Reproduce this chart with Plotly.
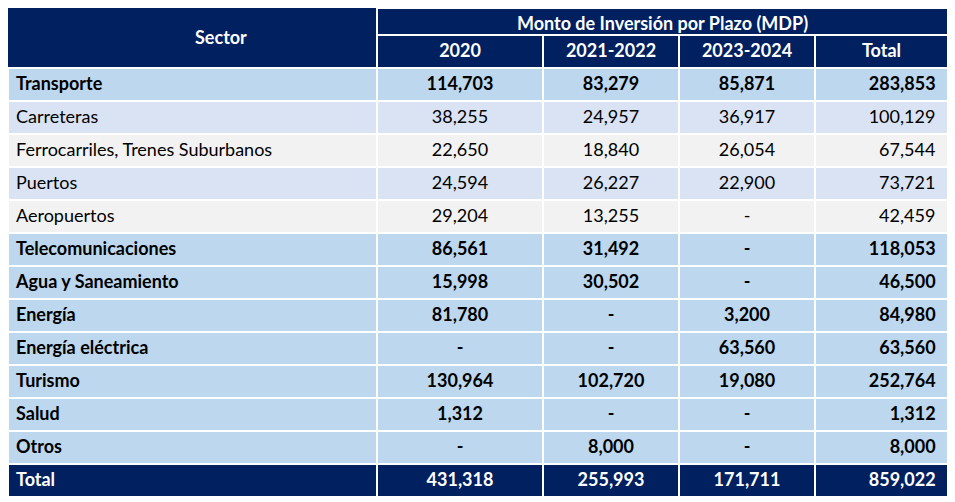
import plotly.graph_objects as go

# Monto de inversion por plazo (MDP)
sectores = ["Transporte", "Carreteras", "Ferrocarriles, Trenes Suburbanos", "Puertos",
            "Aeropuertos", "Telecomunicaciones", "Agua y Saneamiento", "Energía",
            "Energía eléctrica", "Turismo", "Salud", "Otros", "Total"]
subsector = [False, True, True, True, True, False, False, False, False, False, False, False, False]
v2020 = [114703, 38255, 22650, 24594, 29204, 86561, 15998, 81780, None, 130964, 1312, None, 431318]
v2021_2022 = [83279, 24957, 18840, 26227, 13255, 31492, 30502, None, None, 102720, None, 8000, 255993]
v2023_2024 = [85871, 36917, 26054, 22900, None, None, None, 3200, 63560, 19080, None, None, 171711]
total = [283853, 100129, 67544, 73721, 42459, 118053, 46500, 84980, 63560, 252764, 1312, 8000, 859022]
periodos = ["2020", "2021-2022", "2023-2024", "Total"]

NAVY = "#002060"
# the page body adds an 8px margin, so the figure is a bit smaller than the window
W, H = 947, 494
FONT = "Lato"
FS = 18
ROW_H = 33
TOP_H = 27


def fmt(v):
    return "-" if v is None else "{:,}".format(v)


cols = [list(sectores)]
for serie in [v2020, v2021_2022, v2023_2024, total]:
    cols.append([fmt(v) for v in serie])
cols[4] = [c + "\u00a0" for c in cols[4]]

fills = []
for name, sub in zip(sectores, subsector):
    if name == "Total":
        fills.append(NAVY)
    elif sub:
        fills.append("#DAE3F3" if name in ("Carreteras", "Puertos") else "#F2F2F2")
    else:
        fills.append("#BDD7EE")
font_colors = ["white" if n == "Total" else "black" for n in sectores]

widths = [369, 166, 136, 136, 133]
x1 = sum(widths)
aligns = ["left", "center", "center", "center", "right"]
line = dict(color="white", width=2)

fig = go.Figure()


def add_block(start, stop, y_top, header=None):
    # one table per block of rows so bold / regular weight can be set per block;
    # without a column header the first row of the block is used as header
    weight = 400 if subsector[start] else 700
    if header is None:
        hdr = dict(values=[c[start] for c in cols], fill_color=fills[start],
                   font=dict(family=FONT, size=FS, color=font_colors[start], weight=weight),
                   align=aligns, line=line, height=ROW_H)
        start += 1
    else:
        hdr = dict(values=header, fill_color=NAVY, line=line,
                   font=dict(family=FONT, size=FS, color="white", weight=700),
                   align="center", height=ROW_H)
    h = (stop - start + 1) * ROW_H
    fig.add_trace(go.Table(
        domain=dict(x=[0, x1 / W], y=[1 - (y_top + h) / H, 1 - y_top / H]),
        columnwidth=widths,
        header=hdr,
        cells=dict(values=[c[start:stop] for c in cols],
                   fill_color=[fills[start:stop]] * 5,
                   line=line,
                   font=dict(family=FONT, size=FS, color=[font_colors[start:stop]] * 5,
                             weight=weight),
                   align=aligns, height=ROW_H),
    ))
    return y_top + h


y = add_block(0, 1, TOP_H, header=[""] + periodos)
y = add_block(1, 5, y)
y = add_block(5, len(sectores), y)

# primera fila de encabezado
fig.add_trace(go.Table(
    domain=dict(x=[0, x1 / W], y=[1 - TOP_H / H, 1]),
    columnwidth=[widths[0], sum(widths[1:])],
    header=dict(values=["", "Monto de Inversión por Plazo (MDP)"],
                fill_color=NAVY, line=line,
                font=dict(family=FONT, size=FS, color="white", weight=700),
                align="center", height=TOP_H),
))

# celda combinada "Sector"
fig.add_shape(type="rect", xref="paper", yref="paper",
              x0=0, x1=(widths[0] - 1) / W,
              y0=1 - (TOP_H + ROW_H - 1) / H, y1=1,
              fillcolor=NAVY, line=dict(width=0), layer="above")
fig.add_annotation(text="<b>Sector</b>", xref="paper", yref="paper",
                   x=(widths[0] / 2) / W, y=1 - 29 / H, yanchor="middle",
                   showarrow=False, font=dict(family=FONT, size=FS, color="white"))

fig.update_layout(width=W, height=H, margin=dict(l=0, r=0, t=0, b=0),
                  paper_bgcolor="white")
fig.write_html("out.html")
